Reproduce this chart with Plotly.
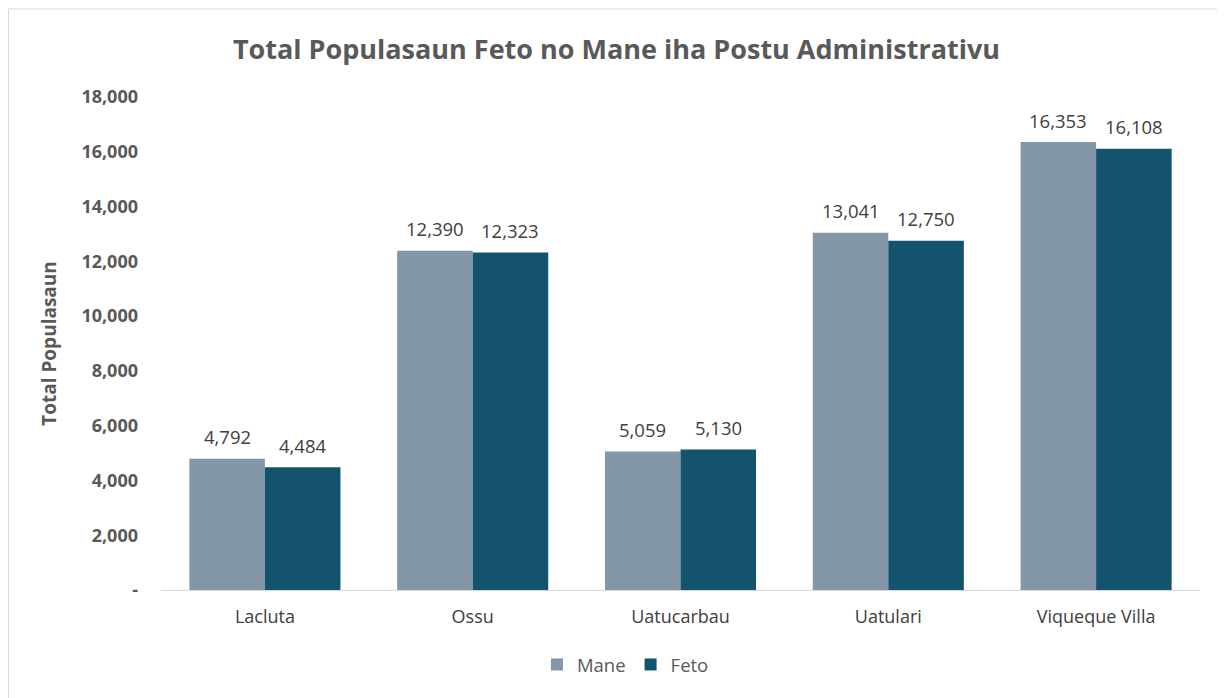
import plotly.graph_objects as go

categories = ["Lacluta", "Ossu", "Uatucarbau", "Uatulari", "Viqueque Villa"]
mane = [4792, 12390, 5059, 13041, 16353]
feto = [4484, 12323, 5130, 12750, 16108]
tick_vals = [0, 2000, 4000, 6000, 8000, 10000, 12000, 14000, 16000, 18000]
tick_text = ["-", "2,000", "4,000", "6,000", "8,000", "10,000", "12,000", "14,000", "16,000", "18,000"]

FONT = "Open Sans"
W, H = 1217, 690
L, R, T, B = 153, 25, 89, 108
plot_w = W - L - R
bargap = 0.273
bar_px = plot_w / len(categories) * (1 - bargap) / 2

fig = go.Figure()
fig.add_trace(go.Bar(name="Mane", x=categories, y=mane, marker_color="#8497a9", marker_line_width=0))
fig.add_trace(go.Bar(name="Feto", x=categories, y=feto, marker_color="#13536e", marker_line_width=0))

for vals, sgn in ((mane, -1), (feto, 1)):
    for c, v in zip(categories, vals):
        fig.add_annotation(x=c, y=v, text=f"{v:,}", showarrow=False, xshift=sgn * bar_px / 2,
                           yshift=22, yanchor="middle",
                           font=dict(size=18.5, color="#404040", family=FONT))

fig.update_layout(
    width=W, height=H,
    margin=dict(l=L, r=R, t=T, b=B, autoexpand=False),
    paper_bgcolor="white", plot_bgcolor="white",
    barmode="group", bargap=bargap, bargroupgap=0,
    font=dict(family=FONT, color="#595959"),
    title=dict(text="<b>Total Populasaun Feto no Mane iha Postu Administrativu</b>",
               x=0.5, xref="container", xanchor="center", y=1 - 42 / H, yref="container", yanchor="middle",
               font=dict(size=27, color="#595959", family=FONT)),
    legend=dict(orientation="h", x=0.447, xanchor="center", y=-0.152, yanchor="middle",
                font=dict(size=18.5, color="#595959", family=FONT), traceorder="normal",
                itemwidth=30),
    showlegend=True,
)
fig.update_xaxes(showgrid=False, showline=True, linecolor="#d9d9d9", linewidth=1, tickangle=0,
                 ticks="", ticklabelstandoff=10, tickfont=dict(size=18, color="#404040", family=FONT))
fig.update_yaxes(range=[0, 18000], tickvals=tick_vals, ticktext=[f"<b>{t}</b>" for t in tick_text],
                 showgrid=False, showline=False, zeroline=False, ticks="",
                 tickfont=dict(size=18, color="#595959", family=FONT), ticklabelstandoff=22,
                 title=dict(text="<b>Total Populasaun</b>", font=dict(size=19, color="#595959", family=FONT),
                            standoff=19))
fig.add_shape(type="rect", xref="paper", yref="paper",
              x0=(0.5 - L) / plot_w, x1=(1210 - L) / plot_w,
              y0=-0.225, y1=1 + (T - 1) / (H - T - B),
              line=dict(color="#d9d9d9", width=1), fillcolor="rgba(0,0,0,0)", layer="below")
fig.write_html("out.html")
